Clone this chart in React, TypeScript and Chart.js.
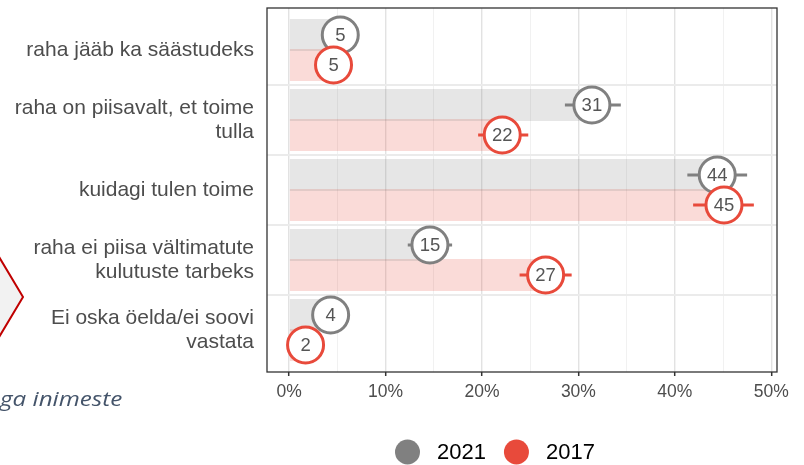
import React, { useEffect, useRef } from "react";
import { Chart, registerables } from "chart.js";

Chart.register(...registerables);

// ---- data ----
const categories: (string | string[])[] = [
  "raha jääb ka säästudeks",
  ["raha on piisavalt, et toime", "tulla"],
  "kuidagi tulen toime",
  ["raha ei piisa vältimatute", "kulutuste tarbeks"],
  ["Ei oska öelda/ei soovi", "vastata"],
];
const seriesNames = ["2021", "2017"];
const values2021 = [5.3, 31.4, 44.4, 14.6, 4.3];
const values2017 = [4.6, 22.1, 45.1, 26.6, 1.7];
const low2021 = [4.3, 28.6, 41.3, 12.3, 3.4];
const high2021 = [6.3, 34.4, 47.5, 16.9, 5.2];
const low2017 = [3.7, 19.6, 41.9, 23.9, 1.0];
const high2017 = [5.5, 24.8, 48.2, 29.3, 2.4];
const xMajorTicks = [0, 10, 20, 30, 40, 50];
const xMinorTicks = [5, 15, 25, 35, 45];

const GREY = "#808080";
const RED = "#e84a3b";
const FONT = '"Liberation Sans", Arial, sans-serif';

const markersPlugin = {
  id: "markers",
  afterDatasetsDraw(chart: any) {
    const { ctx } = chart;
    const xs = chart.scales.x;
    chart.data.datasets.forEach((ds: any, di: number) => {
      const meta = chart.getDatasetMeta(di);
      meta.data.forEach((bar: any, i: number) => {
        const y = bar.y;
        ctx.save();
        ctx.strokeStyle = ds.markerColor;
        ctx.lineWidth = 3;
        ctx.beginPath();
        ctx.moveTo(xs.getPixelForValue(ds.lo[i]), y);
        ctx.lineTo(xs.getPixelForValue(ds.hi[i]), y);
        ctx.stroke();
        const cx = xs.getPixelForValue(ds.values[i]);
        ctx.beginPath();
        ctx.arc(cx, y, 18, 0, Math.PI * 2);
        ctx.fillStyle = "#ffffff";
        ctx.fill();
        ctx.lineWidth = 3;
        ctx.stroke();
        ctx.fillStyle = "#555555";
        ctx.font = `18.5px ${FONT}`;
        ctx.textAlign = "center";
        ctx.textBaseline = "middle";
        ctx.fillText(String(Math.round(ds.values[i])), cx, y + 1);
        ctx.restore();
      });
    });
  },
};

const borderPlugin = {
  id: "panelBorder",
  afterDraw(chart: any) {
    const { ctx, chartArea } = chart;
    ctx.save();
    ctx.strokeStyle = "#333333";
    ctx.lineWidth = 1.3;
    ctx.strokeRect(chartArea.left, chartArea.top, chartArea.right - chartArea.left, chartArea.bottom - chartArea.top);
    ctx.restore();
  },
};

const legendPlugin = {
  id: "customLegend",
  afterDraw(chart: any) {
    const { ctx } = chart;
    ctx.save();
    ctx.font = `22px ${FONT}`;
    ctx.textBaseline = "middle";
    ctx.textAlign = "left";
    const r = 12.5;
    let x = 395;
    const y = 452;
    chart.data.datasets.forEach((ds: any) => {
      ctx.beginPath();
      ctx.arc(x + r, y, r, 0, Math.PI * 2);
      ctx.fillStyle = ds.markerColor;
      ctx.fill();
      x += 2 * r + 17;
      ctx.fillStyle = "#000000";
      ctx.fillText(ds.label, x, y + 1);
      x += ctx.measureText(ds.label).width + 18;
    });
    ctx.restore();
  },
};

export default function App() {
  const ref = useRef<HTMLCanvasElement | null>(null);

  useEffect(() => {
    document.body.style.margin = "0";
    if (!ref.current) return;
    const mk = (name: string, values: number[], lo: number[], hi: number[], fill: string, color: string) => ({
      label: name,
      data: values.map((v, i) => ({ x: v, y: i })),
      values,
      lo,
      hi,
      markerColor: color,
      backgroundColor: fill,
      borderWidth: 0,
      // the ruler spacing is half a row (grid ticks sit at half rows)
      categoryPercentage: 1.714,
      barPercentage: 1.07,
    });
    const chart = new Chart(ref.current, {
      type: "bar",
      data: {
        datasets: [
          mk(seriesNames[0], values2021, low2021, high2021, "rgba(128,128,128,0.2)", GREY),
          mk(seriesNames[1], values2017, low2017, high2017, "rgba(232,74,59,0.2)", RED),
        ] as any,
      },
      options: {
        indexAxis: "y",
        animation: false,
        responsive: false,
        events: [],
        layout: { padding: { left: 0, right: 27, top: 8, bottom: 43 } },
        plugins: { legend: { display: false }, tooltip: { enabled: false } },
        scales: {
          x: {
            type: "linear",
            position: "bottom",
            min: -2.3,
            max: 50.6,
            offset: false,
            afterBuildTicks: (scale: any) => {
              scale.ticks = [...xMajorTicks, ...xMinorTicks].sort((a, b) => a - b).map((v) => ({ value: v }));
            },
            afterFit: (scale: any) => {
              scale.height = 50;
              scale.paddingLeft = 0;
              scale.paddingRight = 0;
            },
            border: { display: false },
            grid: {
              offset: false,
              color: (c: any) => (xMajorTicks.includes(c.tick?.value) ? "#e2e2e2" : "#f1f1f1"),
              lineWidth: (c: any) => (xMajorTicks.includes(c.tick?.value) ? 1.4 : 1),
              tickColor: (c: any) => (xMajorTicks.includes(c.tick?.value) ? "#333333" : "rgba(0,0,0,0)"),
              tickLength: 4,
              tickWidth: 1.5,
              drawTicks: true,
            } as any,
            ticks: {
              autoSkip: false,
              maxRotation: 0,
              padding: 6,
              color: "#4d4d4d",
              font: { family: FONT, size: 17.5 },
              callback: (v: any) => (xMajorTicks.includes(v) ? `${v}%` : ""),
            },
          },
          y: {
            type: "linear",
            reverse: true,
            min: -0.6,
            max: 4.6,
            offset: false,
            afterBuildTicks: (scale: any) => {
              const t: any[] = [];
              for (let i = 0; i < categories.length; i++) {
                t.push({ value: i });
                if (i < categories.length - 1) t.push({ value: i + 0.5 });
              }
              scale.ticks = t;
            },
            afterFit: (scale: any) => {
              scale.width = 267;
              scale.paddingTop = 0;
              scale.paddingBottom = 0;
            },
            border: { display: false },
            grid: {
              offset: false,
              color: (c: any) => (Number.isInteger(c.tick?.value) ? "rgba(0,0,0,0)" : "#ebebeb"),
              lineWidth: 2,
              drawTicks: false,
            },
            ticks: {
              autoSkip: false,
              padding: 13,
              color: "#4d4d4d",
              font: { family: FONT, size: 21, lineHeight: 1.13 },
              callback: (v: any) => (Number.isInteger(v) ? (categories[v] as any) : ""),
            },
          },
        },
      },
      plugins: [markersPlugin, borderPlugin, legendPlugin],
    } as any);
    return () => chart.destroy();
  }, []);

  return (
    <div style={{ position: "relative", width: 804, height: 465, overflow: "hidden", background: "#ffffff" }}>
      <canvas ref={ref} width={804} height={465} style={{ display: "block" }} />
      <svg
        width={40}
        height={150}
        style={{ position: "absolute", left: 0, top: 225, pointerEvents: "none" }}
      >
        <polygon points="-20,0 23,72 -20,144" fill="#f2f2f2" stroke="#c00000" strokeWidth={2} />
      </svg>
      <div
        style={{
          position: "absolute",
          left: 0,
          top: 389,
          fontFamily: '"Open Sans", sans-serif',
          fontStyle: "italic",
          fontSize: 20,
          lineHeight: "20px",
          color: "#44546a",
          whiteSpace: "nowrap",
          transform: "scaleX(1.21)",
          transformOrigin: "left top",
        }}
      >
        ga inimeste
      </div>
    </div>
  );
}
